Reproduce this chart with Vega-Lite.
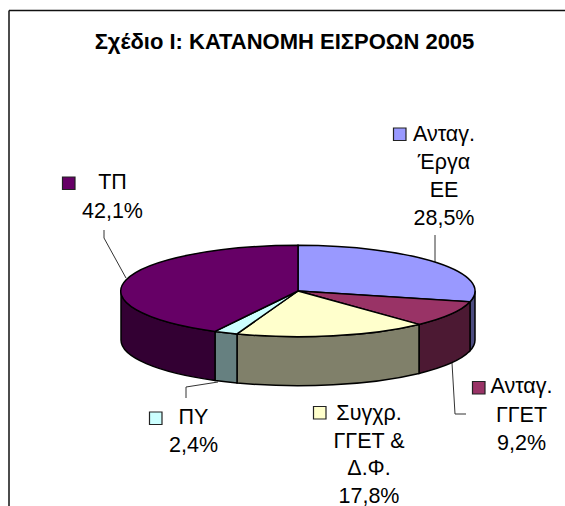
{"$schema":"https://vega.github.io/schema/vega-lite/v6.json","width":565,"height":506,"padding":0,"autosize":{"type":"none"},"background":"white","view":{"stroke":null},
"title":{"text":"Σχέδιο Ι: ΚΑΤΑΝΟΜΗ ΕΙΣΡΟΩΝ 2005","font":"Liberation Sans","fontSize":22,"fontWeight":"bold","color":"black","anchor":"middle","baseline":"alphabetic","offset":-71,"dx":2},
"data":{"values":[
{"name":"Ανταγ. Έργα ΕΕ","value":28.5,"label":"Ανταγ.\nΈργα\nΕΕ\n28,5%"},
{"name":"Ανταγ. ΓΓΕΤ","value":9.2,"label":"Ανταγ.\nΓΓΕΤ\n9,2%"},
{"name":"Συγχρ. ΓΓΕΤ & Δ.Φ.","value":17.8,"label":"Συγχρ.\nΓΓΕΤ &\nΔ.Φ.\n17,8%"},
{"name":"ΠΥ","value":2.4,"label":"ΠΥ\n2,4%"},
{"name":"ΤΠ","value":42.1,"label":"ΤΠ\n42,1%"}]},
"encoding":{"x":{"datum":298,"type":"quantitative","scale":{"domain":[0,565],"nice":false,"zero":false},"axis":null},"y":{"datum":291,"type":"quantitative","scale":{"domain":[0,506],"reverse":true,"nice":false,"zero":false},"axis":null}},
"resolve":{"scale":{"fill":"independent","shape":"independent"}},
"layer":[
{"transform":[{"filter":"datum.name === 'ΤΠ'"}],"mark":{"type":"rule","stroke":"#111111","strokeWidth":1.5},"encoding":{"x":{"datum":9,"type":"quantitative"},"y":{"datum":10.5,"type":"quantitative"},"y2":{"datum":506}}},
{"transform":[{"filter":"datum.name === 'ΤΠ'"}],"mark":{"type":"rule","stroke":"#111111","strokeWidth":1.5},"encoding":{"x":{"datum":9,"type":"quantitative"},"x2":{"datum":565},"y":{"datum":10.5,"type":"quantitative"}}},
{"mark":{"type":"point","filled":false,"opacity":1,"size":4,"stroke":"#333333","strokeWidth":1},"encoding":{"shape":{"field":"name","type":"nominal","legend":null,"scale":{"domain":["Ανταγ. Έργα ΕΕ","Ανταγ. ΓΓΕΤ","Συγχρ. ΓΓΕΤ & Δ.Φ.","ΠΥ","ΤΠ"],"range":["M137 -56 L137 -29","M154 72 L157 123 L168 123","M0 0","M-80 91 L-112 96 L-112 107","M-172 -13 L-194 -53 L-194 -61"]}}}},
{"mark":{"type":"point","filled":true,"opacity":1,"size":4,"stroke":"black","strokeWidth":1.5},"encoding":{"fill":{"field":"name","type":"nominal","legend":null,"scale":{"domain":["Ανταγ. Έργα ΕΕ","Ανταγ. ΓΓΕΤ","Συγχρ. ΓΓΕΤ & Δ.Φ.","ΠΥ","ΤΠ"],"range":["#4c4c80","#4c1933","#80806a","#668080","#330033"]}},"shape":{"field":"name","type":"nominal","legend":null,"scale":{"domain":["Ανταγ. Έργα ΕΕ","Ανταγ. ΓΓΕΤ","Συγχρ. ΓΓΕΤ & Δ.Φ.","ΠΥ","ΤΠ"],"range":["M177 0 A177 45.7 0 0 1 172 10.8 L172 59.8 A177 45.7 0 0 0 177 49 Z","M172 10.8 A177 45.7 0 0 1 121 33.4 L121 82.4 A177 45.7 0 0 0 172 59.8 Z","M121 33.4 A177 45.7 0 0 1 -61 42.9 L-61 91.9 A177 45.7 0 0 0 121 82.4 Z","M-61 42.9 A177 45.7 0 0 1 -83 40.4 L-83 89.4 A177 45.7 0 0 0 -61 91.9 Z","M-83 40.4 A177 45.7 0 0 1 -177 0 L-177 49 A177 45.7 0 0 0 -83 89.4 Z"]}}}},
{"mark":{"type":"point","filled":true,"opacity":1,"size":4,"stroke":"black","strokeWidth":1.5},"encoding":{"fill":{"field":"name","type":"nominal","legend":null,"scale":{"domain":["Ανταγ. Έργα ΕΕ","Ανταγ. ΓΓΕΤ","Συγχρ. ΓΓΕΤ & Δ.Φ.","ΠΥ","ΤΠ"],"range":["#9999ff","#993366","#ffffcc","#ccffff","#660066"]}},"shape":{"field":"name","type":"nominal","legend":null,"scale":{"domain":["Ανταγ. Έργα ΕΕ","Ανταγ. ΓΓΕΤ","Συγχρ. ΓΓΕΤ & Δ.Φ.","ΠΥ","ΤΠ"],"range":["M0 0 L0 -45.7 A177 45.7 0 0 1 172 10.8 Z","M0 0 L172 10.8 A177 45.7 0 0 1 121 33.4 Z","M0 0 L121 33.4 A177 45.7 0 0 1 -61 42.9 Z","M0 0 L-61 42.9 A177 45.7 0 0 1 -83 40.4 Z","M0 0 L-83 40.4 A177 45.7 0 0 1 0 -45.7 Z"]}}}},
{"mark":{"type":"point","filled":true,"opacity":1,"size":4,"stroke":"#222222","strokeWidth":1.2},"encoding":{"fill":{"field":"name","type":"nominal","legend":null,"scale":{"domain":["Ανταγ. Έργα ΕΕ","Ανταγ. ΓΓΕΤ","Συγχρ. ΓΓΕΤ & Δ.Φ.","ΠΥ","ΤΠ"],"range":["#9999ff","#993366","#ffffcc","#ccffff","#660066"]}},"shape":{"field":"name","type":"nominal","legend":null,"scale":{"domain":["Ανταγ. Έργα ΕΕ","Ανταγ. ΓΓΕΤ","Συγχρ. ΓΓΕΤ & Δ.Φ.","ΠΥ","ΤΠ"],"range":["M95.5 -163 H108 V-150.5 H95.5 Z","M174.5 90.5 H187 V103 H174.5 Z","M15.5 115.5 H28 V128 H15.5 Z","M-148.5 121 H-136 V133.5 H-148.5 Z","M-235.5 -114 H-223 V-101.5 H-235.5 Z"]}}}},
{"transform":[{"filter":"datum.name === 'Ανταγ. Έργα ΕΕ'"}],"mark":{"type":"text","font":"Liberation Sans","fontSize":21.5,"lineBreak":"\n","lineHeight":28,"baseline":"alphabetic","align":"center","color":"black"},"encoding":{"text":{"field":"label"},"x":{"datum":444,"type":"quantitative"},"y":{"datum":141,"type":"quantitative"}}},
{"transform":[{"filter":"datum.name === 'Ανταγ. ΓΓΕΤ'"}],"mark":{"type":"text","font":"Liberation Sans","fontSize":21.5,"lineBreak":"\n","lineHeight":28.5,"baseline":"alphabetic","align":"center","color":"black"},"encoding":{"text":{"field":"label"},"x":{"datum":521.5,"type":"quantitative"},"y":{"datum":393,"type":"quantitative"}}},
{"transform":[{"filter":"datum.name === 'Συγχρ. ΓΓΕΤ & Δ.Φ.'"}],"mark":{"type":"text","font":"Liberation Sans","fontSize":21.5,"lineBreak":"\n","lineHeight":27.5,"baseline":"alphabetic","align":"center","color":"black"},"encoding":{"text":{"field":"label"},"x":{"datum":369,"type":"quantitative"},"y":{"datum":420,"type":"quantitative"}}},
{"transform":[{"filter":"datum.name === 'ΠΥ'"}],"mark":{"type":"text","font":"Liberation Sans","fontSize":21.5,"lineBreak":"\n","lineHeight":28.5,"baseline":"alphabetic","align":"center","color":"black"},"encoding":{"text":{"field":"label"},"x":{"datum":193.5,"type":"quantitative"},"y":{"datum":423.5,"type":"quantitative"}}},
{"transform":[{"filter":"datum.name === 'ΤΠ'"}],"mark":{"type":"text","font":"Liberation Sans","fontSize":21.5,"lineBreak":"\n","lineHeight":29,"baseline":"alphabetic","align":"center","color":"black"},"encoding":{"text":{"field":"label"},"x":{"datum":112.5,"type":"quantitative"},"y":{"datum":189,"type":"quantitative"}}}
]}
